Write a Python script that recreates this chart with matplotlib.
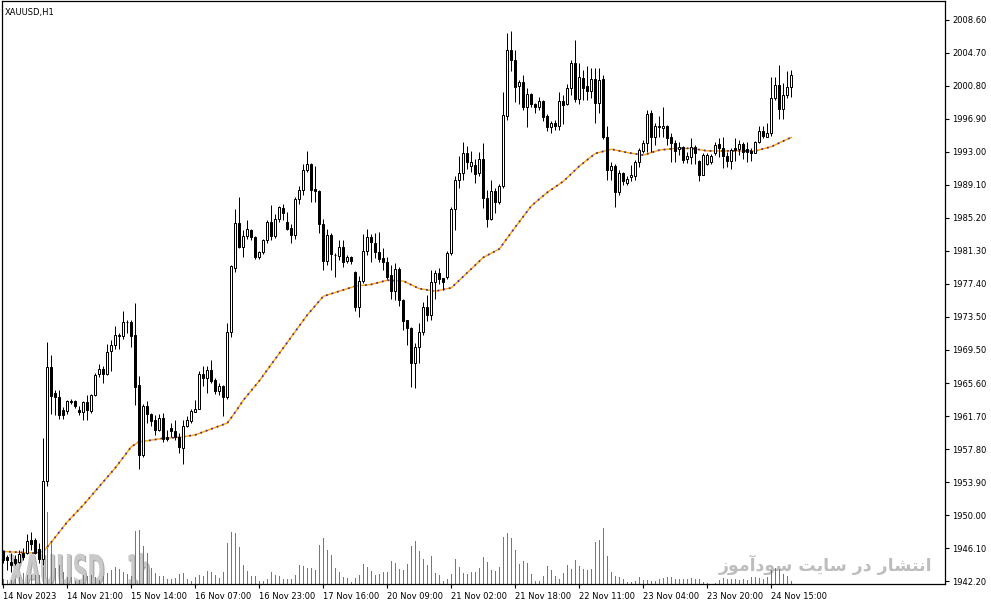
import numpy as np
import matplotlib
matplotlib.use("Agg")
import matplotlib.pyplot as plt
from matplotlib.colors import to_rgba
from matplotlib.patheffects import AbstractPathEffect
from matplotlib.transforms import Affine2D

# XAUUSD H1 bars (prices)
opens = [
    1945.7, 1945.0, 1944.5, 1944.8, 1944.4, 1945.5, 1945.5, 1947.1, 1947.0, 1946.0,
    1944.8, 1954.0, 1967.5, 1964.5, 1964.0, 1962.4, 1962.3, 1963.4, 1963.5, 1962.4,
    1962.2, 1963.4, 1962.3, 1964.2, 1966.7, 1967.3, 1966.7, 1969.4, 1970.1, 1971.2,
    1971.2, 1972.8, 1972.9, 1971.3, 1965.4, 1957.1, 1962.9, 1962.0, 1961.2, 1960.1,
    1961.5, 1959.3, 1960.3, 1960.0, 1959.3, 1958.0, 1960.5, 1961.1, 1962.2, 1962.6,
    1966.7, 1966.2, 1967.2, 1966.0, 1964.7, 1965.3, 1964.0, 1971.7, 1979.3, 1984.6,
    1981.7, 1983.0, 1983.8, 1982.9, 1980.6, 1981.1, 1982.5, 1984.7, 1983.0, 1985.0,
    1986.4, 1984.7, 1984.0, 1983.2, 1987.4, 1988.5, 1990.9, 1991.6, 1988.6, 1988.4,
    1984.4, 1980.1, 1983.2, 1980.8, 1980.7, 1981.7, 1980.1, 1980.6, 1978.8, 1974.6,
    1977.7, 1981.2, 1982.9, 1982.2, 1981.1, 1980.4, 1979.9, 1978.4, 1976.5, 1979.1,
    1975.5, 1973.1, 1972.2, 1968.0, 1969.9, 1971.7, 1974.6, 1973.7, 1977.6, 1978.7,
    1978.1, 1978.2, 1981.0, 1986.2, 1989.7, 1990.5, 1992.9, 1991.3, 1991.4, 1990.5,
    1992.1, 1987.5, 1985.1, 1988.4, 1987.0, 1988.9, 1997.2, 2005.1, 2003.9, 2000.8,
    2001.2, 1998.3, 1999.8, 1998.7, 1998.3, 1999.0, 1997.2, 1995.9, 1996.4, 1996.1,
    1999.0, 1998.7, 2000.5, 2003.5, 1999.3, 2001.7, 2000.8, 2000.2, 2001.6, 1998.8,
    2001.6, 1994.7, 1990.8, 1991.3, 1988.2, 1990.5, 1989.3, 1990.0, 1990.1, 1991.8,
    1993.1, 1994.0, 1997.6, 1994.8, 1995.9, 1995.8, 1996.1, 1994.7, 1994.0, 1993.3,
    1993.6, 1992.1, 1992.4, 1993.6, 1991.9, 1990.3, 1991.6, 1991.8, 1992.9, 1993.9,
    1993.5, 1992.5, 1991.9, 1993.4, 1993.3, 1993.9, 1993.3, 1993.1, 1992.9, 1994.2,
    1995.5, 1994.8, 1995.2, 1999.4, 2000.9, 1998.1, 1999.7, 2000.7,
]
highs = [
    1945.9, 1945.3, 1945.5, 1945.3, 1945.9, 1946.1, 1947.8, 1948.0, 1947.3, 1946.7,
    1959.1, 1970.5, 1969.0, 1964.8, 1964.8, 1962.8, 1963.6, 1963.7, 1963.6, 1962.9,
    1963.5, 1964.2, 1964.3, 1966.8, 1967.9, 1967.6, 1970.2, 1970.7, 1972.4, 1971.6,
    1974.1, 1973.1, 1973.1, 1975.1, 1966.5, 1963.2, 1963.5, 1962.1, 1961.8, 1962.0,
    1962.1, 1960.1, 1960.9, 1961.2, 1959.7, 1961.2, 1961.7, 1962.6, 1963.6, 1967.0,
    1967.7, 1967.6, 1968.4, 1966.2, 1965.6, 1965.4, 1972.7, 1979.6, 1986.2, 1987.7,
    1983.7, 1984.9, 1983.9, 1983.0, 1981.2, 1982.7, 1984.9, 1986.7, 1985.6, 1986.6,
    1986.8, 1985.9, 1984.5, 1987.6, 1988.9, 1991.6, 1993.1, 1991.7, 1991.3, 1988.5,
    1985.0, 1983.9, 1983.4, 1981.0, 1982.6, 1982.6, 1980.8, 1980.7, 1978.9, 1978.3,
    1983.3, 1983.9, 1983.3, 1983.4, 1983.5, 1981.6, 1980.6, 1979.6, 1979.8, 1979.4,
    1975.6, 1973.1, 1972.3, 1970.4, 1972.7, 1975.2, 1976.1, 1979.0, 1979.0, 1979.2,
    1978.1, 1981.2, 1986.5, 1990.1, 1992.5, 1994.1, 1993.7, 1993.1, 1992.2, 1993.0,
    1994.0, 1988.5, 1989.7, 1988.7, 1989.2, 2000.1, 2007.0, 2007.3, 2005.0, 2001.5,
    2002.1, 2000.5, 2000.0, 1998.8, 1999.5, 1999.1, 1997.5, 1996.6, 1996.8, 2000.1,
    1999.7, 2001.0, 2003.8, 2006.2, 2003.5, 2002.7, 2003.1, 2002.9, 2002.9, 2002.9,
    2002.1, 1996.0, 1991.8, 1991.6, 1990.9, 1990.6, 1990.1, 1991.4, 1992.0, 1993.4,
    1994.4, 1998.0, 1998.0, 1996.4, 1997.2, 1998.3, 1996.2, 1995.2, 1994.4, 1994.2,
    1993.7, 1993.0, 1994.6, 1993.8, 1992.0, 1992.8, 1992.8, 1992.7, 1994.1, 1994.6,
    1994.7, 1993.0, 1993.4, 1994.6, 1994.4, 1994.1, 1994.2, 1993.4, 1994.3, 1996.0,
    1996.1, 1996.4, 2001.8, 2001.9, 2003.3, 2001.1, 2002.6, 2002.7,
]
lows = [
    1944.3, 1943.5, 1943.3, 1944.1, 1944.3, 1944.7, 1945.4, 1945.9, 1945.4, 1944.3,
    1944.1, 1953.4, 1962.0, 1961.8, 1961.4, 1961.4, 1962.0, 1963.2, 1962.7, 1961.9,
    1961.3, 1961.3, 1962.1, 1964.1, 1966.4, 1965.6, 1966.6, 1967.0, 1969.6, 1969.6,
    1970.9, 1971.6, 1969.9, 1963.0, 1955.4, 1956.9, 1960.9, 1960.5, 1959.5, 1959.9,
    1958.7, 1958.8, 1959.3, 1958.9, 1957.3, 1956.1, 1960.4, 1960.9, 1962.2, 1962.5,
    1965.3, 1964.5, 1965.6, 1964.3, 1964.2, 1961.7, 1963.8, 1971.1, 1978.8, 1981.6,
    1980.5, 1982.7, 1982.6, 1980.3, 1980.3, 1980.9, 1982.2, 1982.6, 1982.8, 1984.7,
    1984.9, 1983.7, 1982.2, 1982.7, 1986.8, 1987.9, 1990.6, 1987.0, 1987.1, 1983.4,
    1979.0, 1979.6, 1979.0, 1978.2, 1980.2, 1979.4, 1979.8, 1979.7, 1974.2, 1973.4,
    1977.5, 1980.8, 1979.9, 1980.4, 1980.0, 1979.0, 1978.0, 1975.6, 1975.5, 1974.7,
    1971.9, 1970.1, 1965.2, 1965.0, 1968.0, 1971.3, 1973.0, 1973.1, 1975.6, 1977.4,
    1976.7, 1977.9, 1980.8, 1983.7, 1988.7, 1989.7, 1991.0, 1990.6, 1989.3, 1990.1,
    1986.3, 1984.1, 1984.9, 1985.7, 1986.8, 1988.7, 1996.8, 2002.5, 1998.9, 1998.7,
    1997.9, 1995.9, 1998.3, 1997.6, 1998.0, 1996.6, 1995.4, 1995.2, 1995.6, 1995.6,
    1996.3, 1998.5, 1999.7, 1998.9, 1998.7, 1999.1, 1999.1, 1999.4, 1996.4, 1997.6,
    1994.5, 1989.7, 1989.7, 1986.5, 1987.9, 1989.1, 1989.1, 1989.5, 1989.7, 1991.2,
    1992.8, 1993.0, 1993.0, 1993.8, 1994.8, 1994.8, 1993.8, 1991.8, 1991.8, 1992.6,
    1991.7, 1991.7, 1991.6, 1991.6, 1989.5, 1990.2, 1991.4, 1991.6, 1992.6, 1992.4,
    1991.1, 1991.2, 1991.0, 1991.9, 1992.6, 1992.2, 1991.8, 1991.9, 1992.8, 1994.0,
    1994.6, 1994.7, 1994.9, 1999.1, 1996.9, 1996.9, 1999.4, 1999.5,
]
closes = [
    1944.7, 1944.7, 1944.1, 1944.3, 1945.4, 1945.1, 1946.9, 1946.6, 1945.5, 1944.8,
    1954.0, 1967.5, 1964.1, 1964.0, 1961.8, 1961.8, 1963.5, 1963.5, 1962.9, 1962.2,
    1963.4, 1962.4, 1964.2, 1966.6, 1967.3, 1966.7, 1969.3, 1970.1, 1971.3, 1971.3,
    1972.8, 1972.9, 1971.2, 1965.2, 1957.1, 1962.9, 1962.0, 1961.1, 1960.1, 1961.5,
    1959.0, 1959.0, 1960.0, 1959.2, 1958.1, 1960.5, 1961.2, 1962.3, 1962.6, 1966.7,
    1966.2, 1967.2, 1965.9, 1964.7, 1965.3, 1964.0, 1971.7, 1979.5, 1984.6, 1981.7,
    1983.0, 1983.9, 1982.9, 1980.6, 1981.1, 1982.5, 1984.7, 1983.0, 1985.0, 1986.5,
    1985.8, 1983.9, 1983.2, 1987.4, 1988.5, 1990.9, 1991.6, 1988.5, 1988.3, 1984.4,
    1980.1, 1983.1, 1980.9, 1980.8, 1981.7, 1980.0, 1980.6, 1980.1, 1974.6, 1977.7,
    1981.2, 1982.9, 1982.3, 1981.1, 1980.3, 1979.9, 1978.2, 1976.5, 1979.1, 1975.5,
    1973.0, 1972.2, 1968.0, 1969.9, 1971.7, 1974.6, 1973.7, 1977.6, 1978.6, 1978.0,
    1977.6, 1981.0, 1986.2, 1989.7, 1990.5, 1992.9, 1991.8, 1991.8, 1990.4, 1992.1,
    1987.5, 1985.1, 1988.4, 1987.0, 1988.9, 1997.4, 2005.0, 2003.9, 2000.7, 2001.2,
    1998.3, 1999.8, 1998.7, 1998.3, 1999.0, 1997.1, 1995.9, 1996.4, 1996.1, 1999.0,
    1998.5, 2000.5, 2003.5, 1999.3, 2001.8, 2000.5, 2000.2, 2001.6, 1998.8, 2001.5,
    1994.7, 1990.8, 1991.3, 1988.2, 1990.5, 1989.5, 1989.8, 1990.2, 1991.8, 1993.2,
    1994.0, 1997.5, 1994.8, 1996.0, 1996.1, 1996.1, 1994.6, 1994.0, 1993.1, 1993.6,
    1992.0, 1992.5, 1993.6, 1992.9, 1990.2, 1992.6, 1992.6, 1992.5, 1993.8, 1993.5,
    1992.5, 1991.9, 1993.2, 1993.2, 1993.9, 1993.0, 1993.0, 1992.9, 1994.2, 1995.5,
    1994.9, 1995.2, 1999.4, 2000.9, 1998.1, 1999.7, 2000.7, 2002.1,
]
# tick volume per bar
volumes = [
    470, 400, 400, 470, 670, 1070, 900, 900, 900, 900,
    1700, 7200, 4200, 1570, 1900, 1230, 670, 670, 330, 400,
    900, 800, 900, 730, 400, 800, 1130, 1400, 1670, 1470,
    1230, 1000, 800, 5330, 5400, 3800, 3070, 1570, 1130, 800,
    800, 470, 470, 570, 1000, 1070, 500, 330, 670, 900,
    800, 1300, 1230, 900, 570, 1230, 4130, 5200, 5070, 3670,
    1900, 1330, 800, 800, 330, 330, 470, 1230, 900, 800,
    470, 470, 470, 900, 1900, 1800, 1570, 1570, 1400, 3900,
    4600, 3430, 2900, 1570, 1170, 670, 570, 200, 570, 900,
    2000, 1670, 1300, 900, 1000, 1170, 1170, 2300, 2100, 1500,
    1400, 2000, 3800, 4300, 3300, 2500, 1900, 2800, 1070, 900,
    300, 470, 1000, 2500, 1700, 1070, 1000, 1200, 1200, 1600,
    2700, 2200, 1400, 1300, 1700, 4700, 5100, 4600, 3400, 2000,
    2300, 2100, 1000, 300, 300, 800, 1800, 1400, 800, 500,
    1100, 1900, 1500, 2400, 1800, 1500, 1400, 1500, 4200, 4400,
    5600, 2800, 1230, 800, 670, 470, 230, 230, 330, 670,
    400, 400, 330, 330, 470, 570, 730, 670, 470, 470,
    470, 530, 570, 530, 470, 200, 70, 30, 100, 400,
    570, 530, 470, 470, 400, 470, 400, 670, 670, 570,
    530, 670, 1400, 1570, 1470, 1000, 800, 330,
]
# moving average read at these bars
ma_bars = [0, 4, 8, 10, 12, 16, 20, 24, 28, 32, 34, 36, 40, 44, 48, 52, 56, 58,
           60, 64, 68, 72, 76, 80, 84, 88, 92, 96, 100, 104, 108, 112, 116, 120,
           124, 126, 128, 132, 136, 140, 144, 148, 152, 156, 160, 164, 168, 172,
           176, 180, 184, 188, 192, 196, 197]
ma_vals = [1945.7, 1945.6, 1945.5, 1945.7, 1946.8, 1949.2, 1951.2, 1953.4, 1955.6,
           1958.1, 1958.7, 1958.8, 1959.1, 1959.2, 1959.5, 1960.2, 1960.9, 1962.2,
           1963.6, 1965.9, 1968.5, 1971.1, 1973.7, 1975.9, 1976.5, 1977.1, 1977.3,
           1977.8, 1977.7, 1976.8, 1976.5, 1976.9, 1978.7, 1980.5, 1981.5, 1982.8,
           1984.1, 1986.6, 1988.2, 1989.5, 1991.3, 1992.8, 1993.3, 1992.9, 1992.6,
           1993.2, 1993.4, 1993.4, 1993.1, 1993.1, 1993.1, 1993.1, 1993.6, 1994.5,
           1994.7]

time_tick_bars = [0, 16, 32, 48, 64, 80, 96, 112, 128, 144, 160, 176, 192]
time_labels = ["14 Nov 2023", "14 Nov 21:00", "15 Nov 14:00", "16 Nov 07:00",
               "16 Nov 23:00", "17 Nov 16:00", "20 Nov 09:00", "21 Nov 02:00",
               "21 Nov 18:00", "22 Nov 11:00", "23 Nov 04:00", "23 Nov 20:00",
               "24 Nov 15:00"]
price_labels = ["1942.20", "1946.10", "1950.00", "1953.90", "1957.80", "1961.70",
                "1965.60", "1969.50", "1973.50", "1977.40", "1981.30", "1985.20",
                "1989.10", "1993.00", "1996.90", "2000.80", "2004.70", "2008.60"]

watermark_fa = "انتشار در سایت سودآموز"

# contextual forms for the letters used, so the Persian joins properly
FORMS = {
    "ا": ("\uFE8D", "\uFE8E"), "آ": ("\uFE81", "\uFE82"),
    "ر": ("\uFEAD", "\uFEAE"), "د": ("\uFEA9", "\uFEAA"),
    "ز": ("\uFEAF", "\uFEB0"), "و": ("\uFEED", "\uFEEE"),
    "ن": ("\uFEE5", "\uFEE6", "\uFEE7", "\uFEE8"),
    "ت": ("\uFE95", "\uFE96", "\uFE97", "\uFE98"),
    "ش": ("\uFEB5", "\uFEB6", "\uFEB7", "\uFEB8"),
    "س": ("\uFEB1", "\uFEB2", "\uFEB3", "\uFEB4"),
    "ی": ("\uFBFC", "\uFBFD", "\uFBFE", "\uFBFF"),
    "م": ("\uFEE1", "\uFEE2", "\uFEE3", "\uFEE4"),
}


def shape_rtl(s):
    out = []
    for i, ch in enumerate(s):
        forms = FORMS.get(ch)
        if forms is None:
            out.append(ch)
            continue
        prev = s[i - 1] if i > 0 else ""
        nxt = s[i + 1] if i + 1 < len(s) else ""
        join_prev = len(FORMS.get(prev, ())) == 4
        join_next = len(forms) == 4 and nxt in FORMS
        if join_prev and join_next:
            out.append(forms[3])
        elif join_prev:
            out.append(forms[1])
        elif join_next:
            out.append(forms[2])
        else:
            out.append(forms[0])
    return "".join(reversed(out))


class Stretch(AbstractPathEffect):
    """Scale glyphs about the text origin and add a soft shadow (MT4-style watermark)."""

    def __init__(self, sx, sy, shadow="#a9a9a9"):
        super().__init__()
        self.sx, self.sy, self.shadow = sx, sy, to_rgba(shadow)

    def draw_path(self, renderer, gc, tpath, affine, rgbFace=None):
        base = Affine2D().scale(self.sx, self.sy) + affine
        renderer.draw_path(gc, tpath, base + Affine2D().translate(1.2, -1.2), self.shadow)
        renderer.draw_path(gc, tpath, base, rgbFace)


o = np.array(opens)
h = np.array(highs)
l = np.array(lows)
c = np.array(closes)
x = np.arange(len(o))

W, H = 991, 605
fig = plt.figure(figsize=(W / 100, H / 100), dpi=100)
ax = fig.add_axes([2 / W, 21 / H, 943 / W, 583 / H])
axv = ax.twinx()
ax.set_zorder(axv.get_zorder() + 1)
ax.patch.set_visible(False)

# watermarks (behind the volume bars)
wm = dict(transform=ax.transData, fontsize=14.8, fontweight="bold", color="#c9c9c9",
          ha="left", va="baseline", zorder=1, clip_on=True)
axv.text(1.2, 1941.75, "XAUUSD", path_effects=[Stretch(1.0, 2.05)], **wm)
axv.text(30.8, 1941.75, "1h", path_effects=[Stretch(0.82, 2.05)], **wm)
axv.text(930 / 943, 0.022, shape_rtl(watermark_fa), transform=ax.transAxes,
         fontsize=12.5, fontweight="bold", color="#bdbdbd", ha="right",
         va="baseline", zorder=1, family="DejaVu Sans")

# volume histogram in the lower part of the window (thin bars)
axv.bar(x, volumes, width=0.32, color="#19b819", linewidth=0, zorder=2)
axv.set_ylim(0, 58400)
axv.set_yticks([])
for s in axv.spines.values():
    s.set_visible(False)

# moving average: orange line with purple dots
ax.plot(ma_bars, ma_vals, color="#ffa500", lw=1.0, zorder=2.5)
ax.plot(ma_bars, ma_vals, color="#5b2c83", lw=1.3, ls=(0, (1.0, 2.2)), zorder=2.6)

# candles
up = c >= o
ax.vlines(x, l, h, color="black", lw=0.72, zorder=3, snap=True)
ax.bar(x, np.abs(c - o), bottom=np.minimum(o, c), width=0.5,
       color=np.where(up, "white", "black"), edgecolor="black", lw=0.72,
       zorder=4, snap=True)

ax.set_xlim(-0.33, 235.4)
ax.set_ylim(1941.85, 2010.84)

ax.yaxis.tick_right()
ax.set_yticks(np.linspace(1942.2, 2008.6, len(price_labels)))
ax.set_yticklabels(price_labels)
ax.set_xticks(time_tick_bars)
ax.set_xticklabels(time_labels, ha="left")
ax.tick_params(axis="both", labelsize=6.0, length=3, width=0.8, color="black", pad=2)
ax.tick_params(axis="x", pad=3)
for s in ax.spines.values():
    s.set_linewidth(0.9)
    s.set_color("black")

fig.text(5 / W, 1 - 12 / H, "XAUUSD,H1", fontsize=6.0, ha="left", va="center")

fig.savefig("out.png", dpi=100, facecolor="white")
